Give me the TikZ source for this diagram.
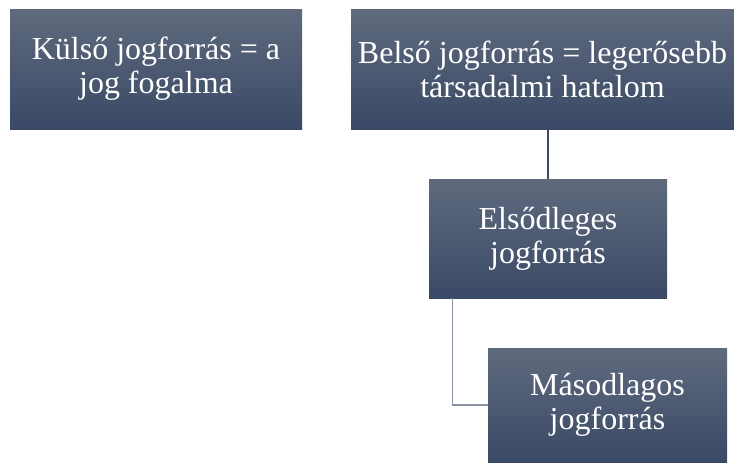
\documentclass[tikz,border=0pt]{standalone}
\usepackage{fontspec}
\setmainfont{Liberation Serif}
\definecolor{boxtop}{HTML}{5F6A7D}
\definecolor{boxbot}{HTML}{3A4966}
\definecolor{linkdark}{HTML}{3C4A63}
\definecolor{linklight}{HTML}{8A93A3}
\begin{document}
\begin{tikzpicture}[x=1pt,y=-1pt,
    srcbox/.style={rectangle, top color=boxtop, bottom color=boxbot, draw=none,
        text=white, align=center, inner sep=0pt,
        font=\fontsize{32}{34}\selectfont},
    link/.style={line width=1.3pt}]
    \useasboundingbox (0,0) rectangle (734,463);

    % top row
    \node[srcbox, minimum width=292, minimum height=120] (kulso) at (156,69)
        {Külső jogforrás = a\\jog fogalma};
    \node[srcbox, minimum width=383, minimum height=120] (belso) at (542.5,69)
        {Belső jogforrás = legerősebb\\társadalmi hatalom};

    % hierarchy below the inner source
    \node[srcbox, minimum width=238, minimum height=119] (elso) at (548,238.5)
        {Elsődleges\\jogforrás};
    \node[srcbox, minimum width=239, minimum height=114] (masod) at (607.5,405)
        {Másodlagos\\jogforrás};

    % connectors
    \draw[link, linkdark] (belso.south -| elso.north) -- (elso.north);
    \coordinate (elbow) at ([xshift=24]elso.south west);
    \draw[link, linklight] (elbow) |- (masod.west);
\end{tikzpicture}
\end{document}
